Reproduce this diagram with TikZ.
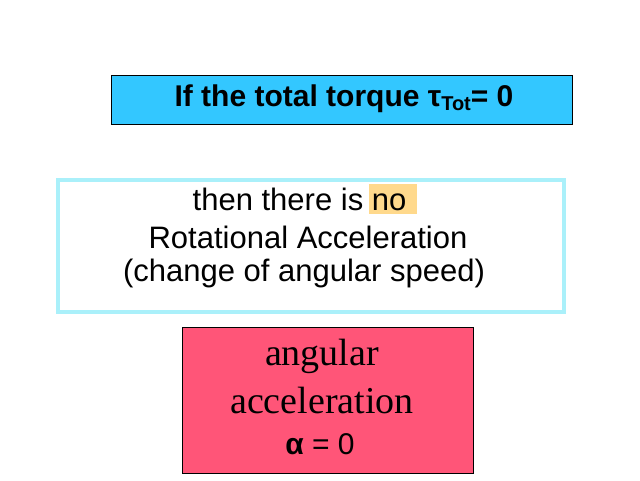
\documentclass[tikz,border=0pt]{standalone}
\usepackage{fontspec}
\setmainfont{Liberation Sans}
\newfontfamily\serifa{Liberation Serif}
\begin{document}
\begin{tikzpicture}[x=1pt,y=-1pt,
  txt/.style={inner sep=0pt,anchor=center,font=\fontsize{31}{36}\selectfont}]
\useasboundingbox (0,0) rectangle (640,480);
\node[draw=black,line width=1.2pt,fill={rgb,255:red,51;green,199;blue,255},minimum width=461pt,minimum height=49pt,anchor=north west] (top) at (111,75) {};
\node[txt,font=\fontsize{30}{34}\selectfont\bfseries] (t1) at (344,99) {If the total torque \raisebox{0pt}{τ}\raisebox{-4pt}{\fontsize{20}{22}\selectfont Tot}= 0};
\node[draw={rgb,255:red,170;green,240;blue,250},line width=3.5pt,fill=white,minimum width=506pt,minimum height=132pt,anchor=north west] (mid) at (56,178) {};
\node[fill={rgb,255:red,255;green,217;blue,140},minimum width=48pt,minimum height=30pt,inner sep=0pt] (hl) at (393,199) {};
\node[txt] (m1) at (303,199) {then there is no\phantom{i}};
\node[txt] (m2) at (308,237) {Rotational Acceleration};
\node[txt] (m3) at (304,273) {(change of angular speed)};
\node[draw=black,line width=1.2pt,fill={rgb,255:red,255;green,85;blue,120},minimum width=291pt,minimum height=146pt,anchor=north west] (bot) at (182,327) {};
\node[txt,font=\serifa\fontsize{38}{42}\selectfont] (b1) at (322,356) {angular};
\node[txt,font=\serifa\fontsize{38}{42}\selectfont] (b2) at (322,400) {acceleration};
\node[txt,font=\fontsize{30}{34}\selectfont] (b3) at (320,444) {\textbf{α} = 0};
\end{tikzpicture}
\end{document}
